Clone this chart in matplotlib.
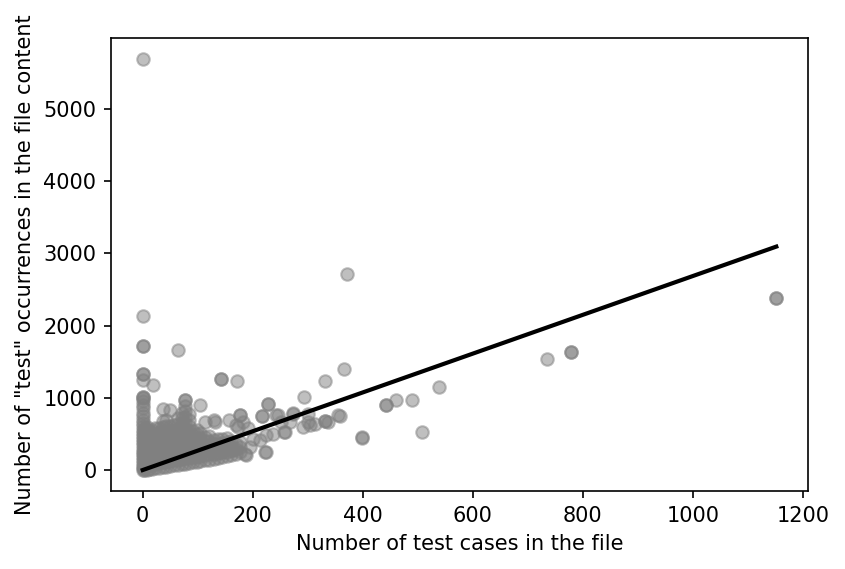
import numpy as np
from matplotlib import pyplot as plt

# dense part near the origin: (test cases, [test occurrences ...])
cluster_columns = [
    (0, [0, 30, 65, 100, 140, 180, 220, 260, 300, 345, 390, 430, 475, 520, 565, 610,
         650, 700, 750, 800, 860, 910, 960, 1000, 1013, 1013, 1243, 1335, 1335,
         1713, 1713, 2127, 5690]),
    (3, [5, 40, 90, 140, 190, 240, 290, 340, 390, 440, 490, 540, 590]),
    (7, [10, 60, 110, 160, 210, 260, 310, 360, 410, 460, 510, 560, 600]),
    (12, [15, 70, 130, 190, 250, 310, 370, 430, 490, 550]),
    (17, [20, 80, 140, 200, 260, 320, 380, 440, 500, 560]),
    (19, [1174]),
    (23, [28, 90, 150, 210, 270, 330, 390, 450, 510, 580]),
    (29, [35, 100, 160, 220, 280, 340, 400, 460, 520, 590]),
    (36, [44, 110, 170, 230, 290, 350, 410, 470, 530, 600, 680, 852]),
    (43, [52, 120, 180, 240, 300, 360, 420, 480, 540, 610, 700]),
    (50, [60, 130, 190, 250, 310, 370, 430, 490, 550, 620, 830]),
    (57, [70, 140, 200, 260, 320, 380, 440, 500, 560, 630]),
    (64, [78, 150, 210, 270, 330, 390, 450, 510, 570, 640, 720]),
    (65, [1667]),
    (71, [85, 160, 220, 280, 340, 400, 460, 520, 580, 650, 730, 800]),
    (77, [92, 170, 230, 290, 350, 410, 470, 530, 590, 660, 740, 820, 890, 967, 967]),
    (84, [100, 175, 240, 300, 360, 420, 480, 540, 610, 690, 780]),
    (91, [110, 180, 250, 310, 370, 430, 490, 550]),
    (98, [118, 190, 260, 320, 380, 440, 500, 560]),
    (105, [126, 200, 270, 330, 390, 450, 520, 898]),
    (113, [140, 210, 280, 340, 400, 460, 667]),
    (121, [150, 220, 290, 350, 410, 470]),
    (129, [160, 230, 300, 360, 420, 690]),
    (137, [170, 240, 310, 370, 430]),
    (145, [185, 250, 320, 380, 440]),
    (153, [200, 260, 330, 390, 450]),
    (161, [215, 280, 340, 400]),
    (169, [230, 300, 368, 621]),
    (177, [250, 320, 390, 760]),
]

# sparser points further out
outlier_cases = [132, 142, 142, 172, 176, 156, 174, 183, 192, 187, 186, 222, 225, 216, 216,
                 227, 227, 246, 243, 274, 274, 294, 259, 256, 237, 301, 301, 304, 313, 292,
                 252, 268, 225, 213, 201, 195, 165, 331, 331, 331, 355, 366, 372, 337, 359,
                 399, 399, 442, 442, 461, 490, 508, 539, 735, 779, 779, 1152, 1152]
outlier_occurrences = [667, 1257, 1257, 1229, 760, 690, 598, 667, 580, 207, 230, 253, 253,
                       746, 750, 921, 921, 760, 760, 792, 783, 1013, 529, 529, 507, 667,
                       783, 621, 645, 598, 667, 667, 483, 414, 438, 322, 280, 677, 677,
                       1229, 760, 1404, 2716, 667, 746, 456, 451, 898, 898, 967, 967, 525,
                       1146, 1533, 1632, 1632, 2385, 2385]

# fitted regression line
fit_slope = 2.68
fit_intercept = 5

test_cases = []
test_occurrences = []
for cx, ys in cluster_columns:
    for cy in ys:
        test_cases.append(cx)
        test_occurrences.append(cy)
test_cases += outlier_cases
test_occurrences += outlier_occurrences

x = np.array(test_cases)
y = np.array(test_occurrences)

fig = plt.figure(figsize=(845 / 150, 569 / 150), dpi=150)
ax = fig.add_axes([0.1314, 0.1371, 0.8248, 0.7961])
ax.scatter(x, y, color='gray', alpha=0.5)
xl = np.array([x.min(), x.max()])
ax.plot(xl, fit_slope * xl + fit_intercept, color='black', linewidth=2)
ax.set_xlabel('Number of test cases in the file')
ax.set_ylabel('Number of "test" occurrences in the file content')
fig.savefig('out.png', dpi=150)
